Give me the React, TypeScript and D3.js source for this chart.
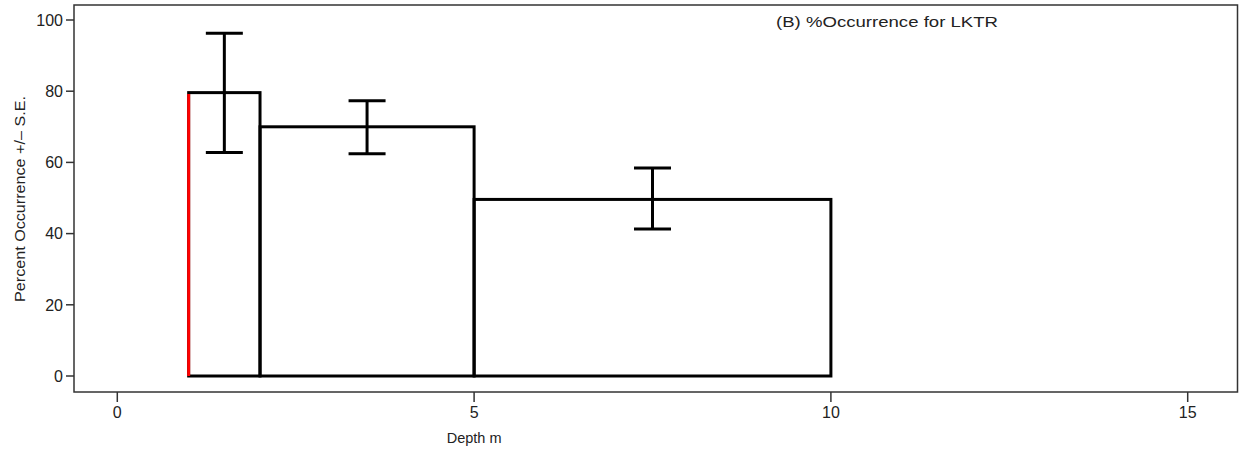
import React, { useEffect, useRef } from "react";
import * as d3 from "d3";

const depthStart = [1, 2, 5];
const depthEnd = [2, 5, 10];
const percent = [79.6, 70, 49.6];
const errMid = [1.5, 3.5, 7.5];
const errLow = [62.8, 62.4, 41.3];
const errHigh = [96.3, 77.3, 58.4];
const xTicks = [0, 5, 10, 15];
const yTicks = [0, 20, 40, 60, 80, 100];

const width = 1244;
const height = 452;
const font = "Liberation Sans, Arial, sans-serif";

const App = () => {
  const chart = useRef<SVGSVGElement>(null);

  useEffect(() => {
    const svg = d3.select(chart.current);
    svg.selectAll("*").remove();

    const x = d3.scaleLinear().domain([0, 15]).range([117.3, 1187.7]);
    const y = d3.scaleLinear().domain([0, 100]).range([376, 20]);
    const box = { left: 74, top: 5, right: 1237.5, bottom: 392 };

    // frame
    svg
      .append("rect")
      .attr("x", box.left)
      .attr("y", box.top)
      .attr("width", box.right - box.left)
      .attr("height", box.bottom - box.top)
      .attr("fill", "none")
      .attr("stroke", "#333")
      .attr("stroke-width", 1.5);

    // y axis
    const yAxis = svg.append("g");
    yAxis
      .selectAll("line")
      .data(yTicks)
      .join("line")
      .attr("x1", box.left - 8)
      .attr("x2", box.left)
      .attr("y1", d => y(d))
      .attr("y2", d => y(d))
      .attr("stroke", "#333")
      .attr("stroke-width", 1.5);
    yAxis
      .selectAll("text")
      .data(yTicks)
      .join("text")
      .attr("x", box.left - 11)
      .attr("y", d => y(d))
      .attr("dy", "0.36em")
      .attr("text-anchor", "end")
      .attr("font-family", font)
      .attr("font-size", 16)
      .attr("fill", "#222")
      .text(d => d);

    // x axis
    const xAxis = svg.append("g");
    xAxis
      .selectAll("line")
      .data(xTicks)
      .join("line")
      .attr("x1", d => x(d))
      .attr("x2", d => x(d))
      .attr("y1", box.bottom)
      .attr("y2", box.bottom + 10)
      .attr("stroke", "#333")
      .attr("stroke-width", 1.5);
    xAxis
      .selectAll("text")
      .data(xTicks)
      .join("text")
      .attr("x", d => x(d))
      .attr("y", 418)
      .attr("text-anchor", "middle")
      .attr("font-family", font)
      .attr("font-size", 16)
      .attr("fill", "#222")
      .text(d => d);

    svg
      .append("text")
      .attr("x", x(5))
      .attr("y", 443)
      .attr("text-anchor", "middle")
      .attr("font-family", font)
      .attr("font-size", 14.5)
      .attr("fill", "#222")
      .text("Depth m");

    svg
      .append("text")
      .attr("transform", `translate(25,199) rotate(-90)`)
      .attr("text-anchor", "middle")
      .attr("font-family", font)
      .attr("font-size", 15)
      .attr("fill", "#222")
      .attr("textLength", 206)
      .attr("lengthAdjust", "spacingAndGlyphs")
      .text("Percent Occurrence +/\u2013 S.E.");

    svg
      .append("text")
      .attr("x", 776)
      .attr("y", 27)
      .attr("font-family", font)
      .attr("font-size", 15)
      .attr("fill", "#222")
      .attr("textLength", 222)
      .attr("lengthAdjust", "spacingAndGlyphs")
      .text("(B) %Occurrence for LKTR");

    // bars
    svg
      .append("g")
      .selectAll("rect")
      .data(percent)
      .join("rect")
      .attr("x", (d, i) => x(depthStart[i]))
      .attr("y", d => y(d))
      .attr("width", (d, i) => x(depthEnd[i]) - x(depthStart[i]))
      .attr("height", d => y(0) - y(d))
      .attr("fill", "none")
      .attr("stroke", "#000")
      .attr("stroke-width", 3);

    // red left edge of first bar
    svg
      .append("line")
      .attr("x1", x(depthStart[0]))
      .attr("x2", x(depthStart[0]))
      .attr("y1", y(0))
      .attr("y2", y(percent[0]) + 1.5)
      .attr("stroke", "#ff0000")
      .attr("stroke-width", 3);

    // error bars
    const capHalf = 18.5;
    const eb = svg.append("g").attr("stroke", "#000").attr("stroke-width", 3);
    errMid.forEach((m, i) => {
      const cx = x(m);
      eb.append("line").attr("x1", cx).attr("x2", cx).attr("y1", y(errLow[i])).attr("y2", y(errHigh[i]));
      eb.append("line").attr("x1", cx - capHalf).attr("x2", cx + capHalf).attr("y1", y(errLow[i])).attr("y2", y(errLow[i]));
      eb.append("line").attr("x1", cx - capHalf).attr("x2", cx + capHalf).attr("y1", y(errHigh[i])).attr("y2", y(errHigh[i]));
    });
  }, []);

  return (
    <svg
      ref={chart}
      width={width}
      height={height}
      style={{ position: "absolute", left: 0, top: 0, background: "#fff" }}
    ></svg>
  );
};

export default App;
